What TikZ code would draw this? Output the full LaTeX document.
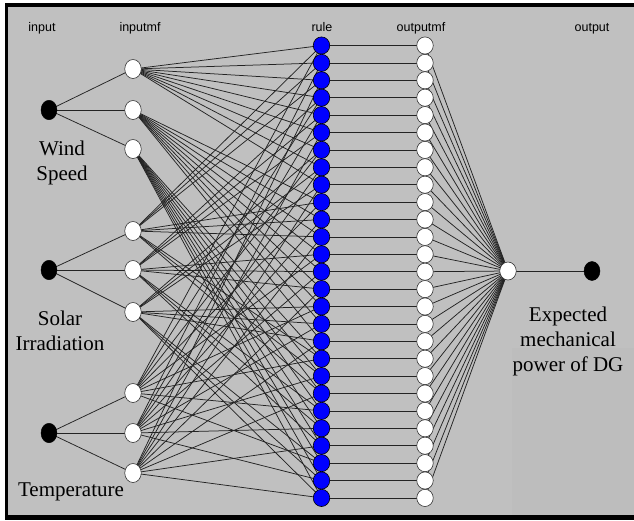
\documentclass[tikz,border=0pt]{standalone}
\usepackage{fontspec}
\setmainfont{Liberation Serif}
\newfontfamily\titlefont{Liberation Sans}
\usetikzlibrary{shapes.geometric}
\definecolor{bgcol}{RGB}{192,192,192}
\definecolor{patchcol}{RGB}{189,189,189}
\definecolor{rulecol}{RGB}{0,0,255}
\definecolor{edgecol}{RGB}{35,35,35}
\pgfdeclarelayer{back}
\pgfdeclarelayer{bg}
\pgfsetlayers{back,bg,main}
\begin{document}
\begin{tikzpicture}[x=1pt,y=-1pt,
  rulenode/.style={ellipse,draw=black,line width=0.6pt,fill=rulecol,minimum width=16.5pt,minimum height=17.2pt,inner sep=0pt},
  outmfnode/.style={ellipse,draw=black!80,line width=0.6pt,fill=white,minimum width=16.5pt,minimum height=17.2pt,inner sep=0pt},
  inmfnode/.style={ellipse,draw=black!80,line width=0.6pt,fill=white,minimum width=16.5pt,minimum height=19pt,inner sep=0pt},
  innode/.style={ellipse,draw=black,fill=black,minimum width=16pt,minimum height=19.5pt,inner sep=0pt},
  edge/.style={draw=edgecol,line width=0.75pt},
  lbl/.style={font=\fontsize{21}{25}\selectfont,anchor=base,inner sep=0pt},
  ttl/.style={font=\titlefont\fontsize{12.5}{14}\selectfont,anchor=base,inner sep=0pt}]
\useasboundingbox (0,0) rectangle (634,520);
\begin{pgfonlayer}{back}
\fill[white] (0,0) rectangle (634,520);
\fill[black] (5,3) rectangle (634,520);
\fill[bgcol] (8,7) rectangle (634,515);
\fill[patchcol] (512,348) rectangle (634,515);
\end{pgfonlayer}
% titles
\node[ttl] (tin) at (42,31) {input};
\node[ttl] (tinmf) at (140,31) {inputmf};
\node[ttl] (trule) at (322,31) {rule};
\node[ttl] (toutmf) at (421,31) {outputmf};
\node[ttl] (tout) at (592,31) {output};
% inputs
\node[innode] (i1) at (49,110) {};
\node[innode] (i2) at (49,270) {};
\node[innode] (i3) at (49,433) {};
% input mfs
\foreach \y [count=\k from 1] in {69,110,149,231,270,312,393,433,473}
  \node[inmfnode] (m\k) at (133,\y) {};
% rules and output mfs
\foreach \i in {0,...,26} {
  \node[rulenode] (r\i) at (321.5,45.5+17.4*\i) {};
  \node[outmfnode] (o\i) at (425,45.5+17.4*\i) {};
}
% output
\node[inmfnode,minimum height=18pt] (om) at (508,271) {};
\node[innode,minimum height=19pt] (out) at (592,271) {};
% edges
\begin{pgfonlayer}{bg}
\foreach \k in {1,2,3} \draw[edge] (i1.center) -- (m\k.center);
\foreach \k in {4,5,6} \draw[edge] (i2.center) -- (m\k.center);
\foreach \k in {7,8,9} \draw[edge] (i3.center) -- (m\k.center);
\foreach \r in {0,...,26} {
  \pgfmathtruncatemacro\a{div(\r,9)+1}
  \pgfmathtruncatemacro\b{mod(div(\r,3),3)+4}
  \pgfmathtruncatemacro\c{mod(\r,3)+7}
  \draw[edge] (m\a.center) -- (r\r.center);
  \draw[edge] (m\b.center) -- (r\r.center);
  \draw[edge] (m\c.center) -- (r\r.center);
  \draw[edge] (r\r.center) -- (o\r.center);
  \draw[edge] (o\r.center) -- (om.center);
}
\draw[edge] (om.center) -- (out.center);
\end{pgfonlayer}
% labels
\node[lbl] (lw1) at (62,155) {Wind};
\node[lbl] (lw2) at (62,180) {Speed};
\node[lbl] (ls1) at (60,325) {Solar};
\node[lbl] (ls2) at (60,350) {Irradiation};
\node[lbl] (lt) at (71,496) {Temperature};
\node[lbl] (le1) at (568,321) {Expected};
\node[lbl] (le2) at (568,346) {mechanical};
\node[lbl] (le3) at (568,371) {power of DG};
\end{tikzpicture}
\end{document}
